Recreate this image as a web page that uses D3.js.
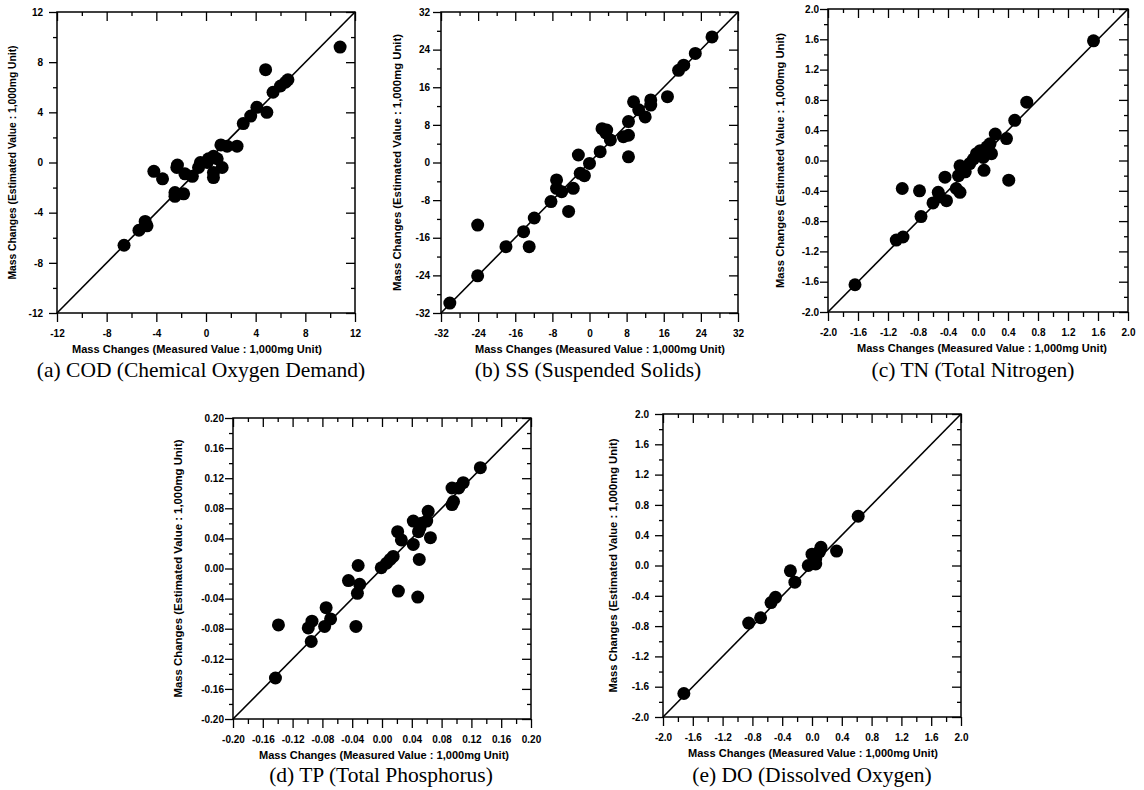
<!DOCTYPE html>
<html><head><meta charset="utf-8">
<script src="https://cdn.jsdelivr.net/npm/d3@7"></script>
<style>body{margin:0;background:#fff}svg{display:block}</style>
</head><body>
<svg id="chart" width="1144" height="790"></svg>
<script>
// ---------- DATA ----------
const codMeasured  = [10.8, 4.8, 5.4, 6.0, 6.4, 6.6, 4.9, 4.1, 3.6, 3.0, 2.5, 1.7, 1.2, 1.3, 0.6, 0.6, 0.6, 0.2, 0.9, 0.1, -0.45, -0.6, -1.1, -1.7, -2.35, -2.3, -2.5, -2.5, -1.8, -4.2, -3.5, -4.9, -4.75, -5.4, -6.6];
const codEstimated = [9.2, 7.4, 5.6, 6.1, 6.4, 6.6, 4.0, 4.4, 3.7, 3.1, 1.3, 1.3, 1.4, -0.4, -0.8, -1.2, 0.5, 0.3, 0.3, 0.0, 0.0, -0.4, -1.1, -0.9, -0.4, -0.2, -2.4, -2.7, -2.5, -0.7, -1.3, -4.7, -5.05, -5.4, -6.6];
const codTicks = [-12, -8, -4, 0, 4, 8, 12];

const ssMeasured  = [26.4, 22.8, 20.3, 19.2, 16.8, 13.2, 13.2, 9.5, 10.6, 12.0, 8.4, 8.4, 7.3, 8.4, 4.5, 3.7, 2.7, 3.5, 2.3, 0.0, -2.4, -2.0, -1.1, -3.5, -4.5, -6.0, -7.1, -7.1, -8.3, -11.9, -14.2, -13.0, -18.0, -24.1, -24.1, -30.1];
const ssEstimated = [26.7, 23.2, 20.7, 19.6, 14.0, 13.3, 12.2, 12.9, 11.2, 9.7, 8.7, 5.8, 5.5, 1.2, 4.8, 6.9, 7.2, 6.3, 2.3, -0.2, 1.6, -2.3, -2.8, -5.5, -10.4, -6.2, -3.7, -5.5, -8.3, -11.8, -14.7, -17.9, -17.9, -13.3, -24.1, -29.9];
const ssTicks = [-32, -24, -16, -8, 0, 8, 16, 24, 32];

const tnMeasured  = [1.54, 0.65, 0.49, 0.38, 0.41, 0.23, 0.16, 0.18, 0.08, 0.03, -0.02, -0.06, -0.11, 0.07, 0.12, -0.24, -0.17, -0.26, -0.44, -0.24, -0.29, -0.42, -0.53, -0.51, -0.60, -0.78, -1.01, -0.76, -1.00, -1.09, -1.64];
const tnEstimated = [1.58, 0.77, 0.53, 0.29, -0.26, 0.35, 0.22, 0.09, -0.13, 0.13, 0.09, 0.02, -0.04, 0.04, 0.18, -0.07, -0.15, -0.20, -0.22, -0.42, -0.37, -0.53, -0.42, -0.48, -0.56, -0.40, -0.37, -0.74, -1.01, -1.05, -1.64];
const tnTicks = [-2.0, -1.6, -1.2, -0.8, -0.4, 0.0, 0.4, 0.8, 1.2, 1.6, 2.0];

const tpMeasured  = [0.132, 0.109, 0.103, 0.094, 0.096, 0.094, 0.062, 0.060, 0.065, 0.042, 0.051, 0.053, 0.049, 0.042, 0.050, 0.048, 0.022, 0.021, 0.026, 0.015, 0.011, 0.006, -0.001, -0.032, -0.045, -0.030, -0.033, -0.035, -0.075, -0.069, -0.077, -0.094, -0.099, -0.095, -0.139, -0.143];
const tpEstimated = [0.134, 0.114, 0.107, 0.107, 0.089, 0.085, 0.076, 0.063, 0.041, 0.063, 0.054, 0.060, 0.049, 0.032, 0.012, -0.038, -0.030, 0.049, 0.038, 0.016, 0.012, 0.007, 0.001, 0.004, -0.016, -0.021, -0.033, -0.077, -0.052, -0.067, -0.077, -0.070, -0.079, -0.097, -0.075, -0.1455];
const tpTicks = [-0.20, -0.16, -0.12, -0.08, -0.04, 0.00, 0.04, 0.08, 0.12, 0.16, 0.20];

const doMeasured  = [0.62, 0.33, 0.12, 0.10, 0.00, 0.05, -0.05, 0.05, -0.29, -0.23, -0.49, -0.55, -0.69, -0.85, -1.72];
const doEstimated = [0.65, 0.19, 0.24, 0.18, 0.15, 0.02, 0.00, 0.09, -0.07, -0.22, -0.42, -0.49, -0.69, -0.76, -1.69];
const doTicks = [-2.0, -1.6, -1.2, -0.8, -0.4, 0.0, 0.4, 0.8, 1.2, 1.6, 2.0];

const captions = ["(a) COD (Chemical Oxygen Demand)", "(b) SS (Suspended Solids)", "(c) TN (Total Nitrogen)", "(d) TP (Total Phosphorus)", "(e) DO (Dissolved Oxygen)"];
const xTitle = "Mass Changes (Measured Value : 1,000mg Unit)";
const yTitle = "Mass Changes (Estimated Value : 1,000mg Unit)";

// ---------- LAYOUT ----------
const panels = [
  {xs: codMeasured, ys: codEstimated, ticks: codTicks, minor: 2,    dec: 0, box: [57, 12, 355, 313],  lpad: 6, yTitleX: 12,  yTitleLen: 234, xTitleCx: 197, capCx: 201, capY: 377},
  {xs: ssMeasured,  ys: ssEstimated,  ticks: ssTicks,  minor: 4,    dec: 0, box: [441, 12, 738, 313], lpad: 3, yTitleX: 397, yTitleLen: 257, xTitleCx: 600, capCx: 588, capY: 377},
  {xs: tnMeasured,  ys: tnEstimated,  ticks: tnTicks,  minor: 0.2,  dec: 1, box: [828, 9, 1128, 312], lpad: 1, yTitleX: 780, yTitleLen: 255, xTitleCx: 982, capCx: 973, capY: 377},
  {xs: tpMeasured,  ys: tpEstimated,  ticks: tpTicks,  minor: 0.02, dec: 2, box: [233, 418, 531, 719], lpad: 1, yTitleX: 178, yTitleLen: 258, xTitleCx: 384, capCx: 381, capY: 782},
  {xs: doMeasured,  ys: doEstimated,  ticks: doTicks,  minor: 0.2,  dec: 1, box: [663, 414, 961, 717], lpad: 6, yTitleX: 613, yTitleLen: 254, xTitleCx: 813, capCx: 812, capY: 782}
];

const svg = d3.select("#chart");
const sans = "'Liberation Sans', Arial, sans-serif";
const serif = "'Liberation Serif', 'Times New Roman', serif";

panels.forEach((p, i) => {
  const [x0, y0, x1, y1] = p.box;
  const lo = p.ticks[0], hi = p.ticks[p.ticks.length - 1];
  const x = d3.scaleLinear().domain([lo, hi]).range([x0, x1]);
  const y = d3.scaleLinear().domain([lo, hi]).range([y1, y0]);
  const fmt = d => d.toFixed(p.dec);
  const minors = d3.range(Math.round((hi - lo) / p.minor) + 1).map(k => lo + k * p.minor)
                   .filter(v => !p.ticks.some(t => Math.abs(t - v) < p.minor / 10));
  const g = svg.append("g");

  const styleAxis = sel => {
    sel.select(".domain").remove();
    sel.selectAll("line").attr("stroke", "#000").attr("stroke-width", 1.3);
    sel.selectAll("text").attr("font-family", sans).attr("font-weight", "bold")
       .attr("font-size", 10).attr("fill", "#000");
  };

  // bottom (outward) major + minor
  g.append("g").attr("transform", `translate(0,${y1})`)
    .call(d3.axisBottom(x).tickValues(p.ticks).tickSize(9).tickPadding(8).tickFormat(fmt)).call(styleAxis);
  g.append("g").attr("transform", `translate(0,${y1})`)
    .call(d3.axisBottom(x).tickValues(minors).tickSize(5).tickFormat("")).call(styleAxis);
  // left (outward)
  g.append("g").attr("transform", `translate(${x0},0)`)
    .call(d3.axisLeft(y).tickValues(p.ticks).tickSize(8).tickPadding(p.lpad).tickFormat(fmt)).call(styleAxis);
  g.append("g").attr("transform", `translate(${x0},0)`)
    .call(d3.axisLeft(y).tickValues(minors).tickSize(4).tickFormat("")).call(styleAxis);
  // top (inward)
  g.append("g").attr("transform", `translate(0,${y0})`)
    .call(d3.axisBottom(x).tickValues(p.ticks).tickSize(9).tickFormat("")).call(styleAxis);
  g.append("g").attr("transform", `translate(0,${y0})`)
    .call(d3.axisBottom(x).tickValues(minors).tickSize(4).tickFormat("")).call(styleAxis);
  // right (inward)
  g.append("g").attr("transform", `translate(${x1},0)`)
    .call(d3.axisLeft(y).tickValues(p.ticks).tickSize(9).tickFormat("")).call(styleAxis);
  g.append("g").attr("transform", `translate(${x1},0)`)
    .call(d3.axisLeft(y).tickValues(minors).tickSize(4).tickFormat("")).call(styleAxis);

  // frame
  g.append("rect").attr("x", x0).attr("y", y0).attr("width", x1 - x0).attr("height", y1 - y0)
    .attr("fill", "none").attr("stroke", "#000").attr("stroke-width", 1.5);

  // 1:1 line
  g.append("line").attr("x1", x(lo)).attr("y1", y(lo)).attr("x2", x(hi)).attr("y2", y(hi))
    .attr("stroke", "#000").attr("stroke-width", 1.6);

  // points
  g.append("g").selectAll("circle").data(p.xs.map((v, k) => [v, p.ys[k]])).join("circle")
    .attr("cx", d => x(d[0])).attr("cy", d => y(d[1])).attr("r", 6.5).attr("fill", "#000");

  // titles
  g.append("text").attr("x", p.xTitleCx).attr("y", y1 + 40).attr("text-anchor", "middle")
    .attr("font-family", sans).attr("font-weight", "bold").attr("font-size", 10)
    .attr("textLength", 250).attr("lengthAdjust", "spacingAndGlyphs").text(xTitle);
  g.append("text").attr("transform", `translate(${p.yTitleX},${(y0 + y1) / 2}) rotate(-90)`)
    .attr("text-anchor", "middle").attr("dy", "0.35em")
    .attr("font-family", sans).attr("font-weight", "bold").attr("font-size", 10)
    .attr("textLength", p.yTitleLen).attr("lengthAdjust", "spacingAndGlyphs").text(yTitle);
  g.append("text").attr("x", p.capCx).attr("y", p.capY).attr("text-anchor", "middle")
    .attr("font-family", serif).attr("font-size", 21.5).attr("fill", "#000").text(captions[i]);
});
</script>
</body></html>
